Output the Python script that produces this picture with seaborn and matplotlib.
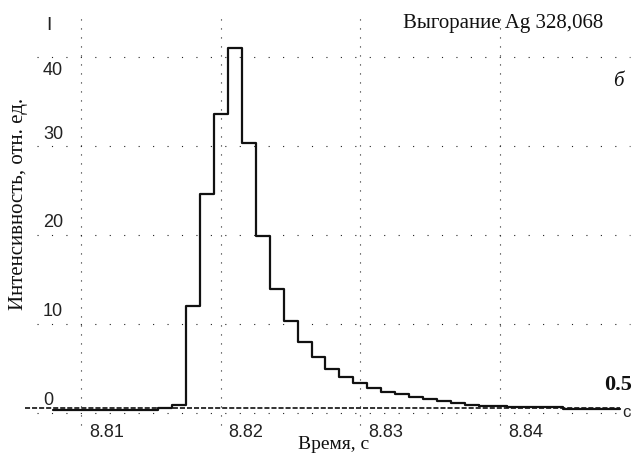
import numpy as np
import pandas as pd
import matplotlib
matplotlib.use("Agg")
import matplotlib.pyplot as plt
import seaborn as sns

# sample times (s) and intensity (rel. units)
times = [8.808, 8.809, 8.810, 8.811, 8.812, 8.813, 8.814, 8.815, 8.816, 8.817,
         8.818, 8.819, 8.820, 8.821, 8.822, 8.823, 8.824, 8.825, 8.826, 8.827,
         8.828, 8.829, 8.830, 8.831, 8.832, 8.833, 8.834, 8.835, 8.836, 8.837,
         8.838, 8.839, 8.840, 8.841, 8.842, 8.843, 8.844, 8.845, 8.846, 8.847,
         8.848, 8.8486]
intensity = [0.3, 0.3, 0.3, 0.3, 0.3, 0.3, 0.3, 0.35, 0.55, 0.9,
             12.0, 24.6, 33.6, 41.0, 30.4, 19.9, 13.9, 10.3, 8.0, 6.3,
             4.9, 4.0, 3.3, 2.8, 2.3, 2.1, 1.8, 1.5, 1.3, 1.1,
             0.9, 0.75, 0.75, 0.6, 0.6, 0.6, 0.6, 0.45, 0.45, 0.45,
             0.45, 0.45]

x_ticks = [8.81, 8.82, 8.83, 8.84]
x_tick_labels = ["8.81", "8.82", "8.83", "8.84"]
y_ticks = [0, 10, 20, 30, 40]
y_tick_labels = ["0", "10", "20", "30", "40"]
threshold = 0.5

df = pd.DataFrame({"t": times, "I": intensity})

sns.set_theme(style="white")
plt.rcParams["font.family"] = ["Liberation Sans", "DejaVu Sans"]
serif = ["Liberation Serif", "DejaVu Serif"]

fig = plt.figure(figsize=(6.38, 4.57), dpi=100)
ax = fig.add_axes([0, 0, 1, 1])
ax.set_xlim(8.80420, 8.84987)
ax.set_ylim(-4.99, 46.45)
ax.axis("off")

# dotted grid
ax.hlines(y_ticks, 8.80685, 8.8493, colors="#222222", lw=0.8,
          linestyles=[(0, (1, 12))])
ax.vlines(x_ticks, -1.4, 44.9, colors="#222222", lw=0.8,
          linestyles=[(0, (1, 7.1))])

# threshold line
ax.plot([8.80596, 8.8486], [threshold, threshold], color="#222222",
        lw=1.3, ls=(0, (2.8, 1.1)))

# signal
sns.lineplot(data=df, x="t", y="I", drawstyle="steps-mid", color="#111111",
             lw=1.6, ax=ax, sort=False)

# tick labels
for v, lab in zip(x_ticks, x_tick_labels):
    ax.text(v + 0.00056, -2.2, lab, ha="left", va="center", fontsize=13,
            color="#222222")
for v, lab in zip(y_ticks, y_tick_labels):
    dy = -1.45 if v == 40 else 1.35
    if v == 0:
        ax.text(8.80728, v + dy, lab, ha="left", va="center", fontsize=13,
                color="#222222")
    else:
        ax.text(8.80871, v + dy, lab, ha="right", va="center", fontsize=13,
                color="#222222")

ax.text(8.80767, 43.6, "I", ha="center", va="center", fontsize=14,
        color="#222222")
ax.text(8.84873, 0.05, "с", ha="left", va="center", fontsize=12,
        color="#222222")

# annotations
ax.text(8.84737, 43.26, "Выгорание Ag 328,068", ha="right", va="baseline",
        fontsize=15, family=serif, color="#111111")
ax.text(8.84844, 36.77, "б", ha="center", va="baseline", fontsize=15,
        style="italic", family=serif, color="#111111")
ax.text(8.84944, 2.55, "0.5", ha="right", va="baseline", fontsize=16,
        fontweight="bold", family=serif, color="#111111")
ax.text(8.8281, -4.05, "Время, с", ha="center", va="baseline", fontsize=14,
        family=serif, color="#111111")
ax.text(8.80556, 23.5, "Интенсивность, отн. ед.", ha="center", va="center",
        rotation=90, fontsize=15, family=serif, color="#111111")

fig.savefig("out.png", dpi=100)
